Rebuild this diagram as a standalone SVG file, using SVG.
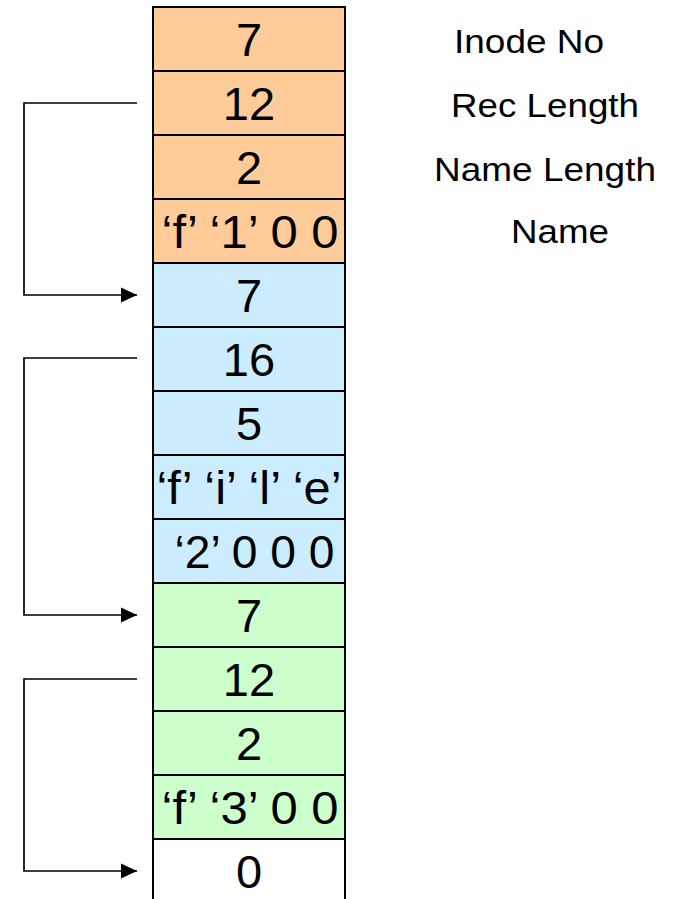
<svg xmlns="http://www.w3.org/2000/svg" width="673" height="899" viewBox="0 0 673 899">
<style>
.cell{stroke:#000;stroke-width:2}
.o{fill:#FFCC99}.b{fill:#CCECFF}.g{fill:#CCFFCC}.w{fill:#FFFFFF}
.v{font-family:"Liberation Sans",Arial,sans-serif;font-size:47px;text-anchor:middle;fill:#000}
.lbl{font-family:"Liberation Sans",Arial,sans-serif;font-size:33px;fill:#000}
.con{fill:none;stroke:#000;stroke-width:1.7}
</style>
<defs>
<marker id="ah" markerUnits="userSpaceOnUse" markerWidth="16" markerHeight="16" viewBox="0 0 16 16" refX="16" refY="8" orient="auto">
<path d="M0,0.5 L16,8 L0,15.5 Z" fill="#000"/>
</marker>
</defs>
<rect x="0" y="0" width="673" height="899" fill="#fff"/>
<g id="rec1">
<g id="r1c1"><rect class="cell o" x="153" y="7" width="192" height="64"/><text class="v" x="249" y="55.5">7</text></g>
<g id="r1c2"><rect class="cell o" x="153" y="71" width="192" height="64"/><text class="v" x="249" y="119.5">12</text></g>
<g id="r1c3"><rect class="cell o" x="153" y="135" width="192" height="64"/><text class="v" x="249" y="183.5">2</text></g>
<g id="r1c4"><rect class="cell o" x="153" y="199" width="192" height="64"/><text class="v" x="250" y="247.5" textLength="177" lengthAdjust="spacingAndGlyphs">‘f’ ‘1’ 0 0</text></g>
</g>
<g id="rec2">
<g id="r2c1"><rect class="cell b" x="153" y="263" width="192" height="64"/><text class="v" x="249" y="311.5">7</text></g>
<g id="r2c2"><rect class="cell b" x="153" y="327" width="192" height="64"/><text class="v" x="249" y="375.5">16</text></g>
<g id="r2c3"><rect class="cell b" x="153" y="391" width="192" height="64"/><text class="v" x="249" y="439.5">5</text></g>
<g id="r2c4"><rect class="cell b" x="153" y="455" width="192" height="64"/><text class="v" x="249" y="503.5" textLength="185" lengthAdjust="spacingAndGlyphs">‘f’ ‘i’ ‘l’ ‘e’</text></g>
<g id="r2c5"><rect class="cell b" x="153" y="519" width="192" height="64"/><text class="v" x="254.5" y="567.5" textLength="160" lengthAdjust="spacingAndGlyphs">‘2’ 0 0 0</text></g>
</g>
<g id="rec3">
<g id="r3c1"><rect class="cell g" x="153" y="583" width="192" height="64"/><text class="v" x="249" y="631.5">7</text></g>
<g id="r3c2"><rect class="cell g" x="153" y="647" width="192" height="64"/><text class="v" x="249" y="695.5">12</text></g>
<g id="r3c3"><rect class="cell g" x="153" y="711" width="192" height="64"/><text class="v" x="249" y="759.5">2</text></g>
<g id="r3c4"><rect class="cell g" x="153" y="775" width="192" height="64"/><text class="v" x="250" y="823.5" textLength="177" lengthAdjust="spacingAndGlyphs">‘f’ ‘3’ 0 0</text></g>
</g>
<g id="rec4">
<path class="cell w" d="M153,900 L153,839 L345,839 L345,900"/>
<text class="v" x="249" y="887.5">0</text>
</g>
<g id="labels">
<text class="lbl" x="454" y="53" textLength="150" lengthAdjust="spacingAndGlyphs">Inode No</text>
<text class="lbl" x="451" y="117" textLength="188" lengthAdjust="spacingAndGlyphs">Rec Length</text>
<text class="lbl" x="434" y="181" textLength="222" lengthAdjust="spacingAndGlyphs">Name Length</text>
<text class="lbl" x="511" y="243" textLength="98" lengthAdjust="spacingAndGlyphs">Name</text>
</g>
<g id="connectors">
<path class="con" d="M137,103 H24 V295 H137" marker-end="url(#ah)"/>
<path class="con" d="M137,358 H24 V615 H137" marker-end="url(#ah)"/>
<path class="con" d="M137,679 H24 V871 H137" marker-end="url(#ah)"/>
</g>
</svg>
